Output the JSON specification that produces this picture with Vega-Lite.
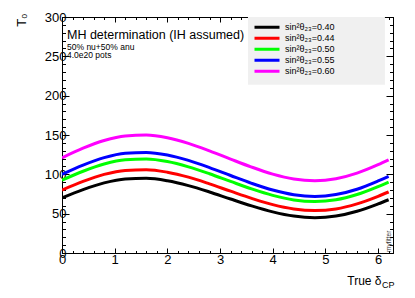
{
  "$schema": "https://vega.github.io/schema/vega-lite/v6.json",
  "width": 331,
  "height": 236,
  "autosize": {"type": "none"},
  "padding": {"left": 62, "top": 17, "right": 22, "bottom": 45},
  "background": "white",
  "config": {
    "view": {"stroke": "black", "strokeWidth": 1},
    "font": "Liberation Sans",
    "axis": {"domainColor": "black", "domainWidth": 1, "tickColor": "black", "tickWidth": 1, "labelColor": "black", "labelFont": "Liberation Sans", "labelFontSize": 13, "titleFont": "Liberation Sans", "titleFontWeight": "normal", "titleColor": "black", "grid": false, "labelOverlap": false, "labelBound": false, "labelFlush": false}
  },
  "datasets": {
    "curves": [
      {"d": 0, "T": 70, "s": "sin²θ₂₃=0.40"}, {"d": 0.4, "T": 80.6, "s": "sin²θ₂₃=0.40"}, {"d": 0.8, "T": 89.1, "s": "sin²θ₂₃=0.40"}, {"d": 1.2, "T": 94.1, "s": "sin²θ₂₃=0.40"}, {"d": 1.6, "T": 94.9, "s": "sin²θ₂₃=0.40"}, {"d": 2.0, "T": 91.8, "s": "sin²θ₂₃=0.40"}, {"d": 2.4, "T": 85.7, "s": "sin²θ₂₃=0.40"}, {"d": 2.8, "T": 77.6, "s": "sin²θ₂₃=0.40"}, {"d": 3.2, "T": 68.6, "s": "sin²θ₂₃=0.40"}, {"d": 3.6, "T": 59.9, "s": "sin²θ₂₃=0.40"}, {"d": 4.0, "T": 52.3, "s": "sin²θ₂₃=0.40"}, {"d": 4.4, "T": 46.9, "s": "sin²θ₂₃=0.40"}, {"d": 4.8, "T": 44.9, "s": "sin²θ₂₃=0.40"}, {"d": 5.2, "T": 46.9, "s": "sin²θ₂₃=0.40"}, {"d": 5.6, "T": 53.0, "s": "sin²θ₂₃=0.40"}, {"d": 6.0, "T": 62.4, "s": "sin²θ₂₃=0.40"}, {"d": 6.2, "T": 67.7, "s": "sin²θ₂₃=0.40"},
      {"d": 0, "T": 80, "s": "sin²θ₂₃=0.44"}, {"d": 0.4, "T": 91.0, "s": "sin²θ₂₃=0.44"}, {"d": 0.8, "T": 99.9, "s": "sin²θ₂₃=0.44"}, {"d": 1.2, "T": 105.0, "s": "sin²θ₂₃=0.44"}, {"d": 1.6, "T": 105.9, "s": "sin²θ₂₃=0.44"}, {"d": 2.0, "T": 102.7, "s": "sin²θ₂₃=0.44"}, {"d": 2.4, "T": 96.4, "s": "sin²θ₂₃=0.44"}, {"d": 2.8, "T": 87.9, "s": "sin²θ₂₃=0.44"}, {"d": 3.2, "T": 78.6, "s": "sin²θ₂₃=0.44"}, {"d": 3.6, "T": 69.5, "s": "sin²θ₂₃=0.44"}, {"d": 4.0, "T": 61.5, "s": "sin²θ₂₃=0.44"}, {"d": 4.4, "T": 56.0, "s": "sin²θ₂₃=0.44"}, {"d": 4.8, "T": 53.9, "s": "sin²θ₂₃=0.44"}, {"d": 5.2, "T": 56.0, "s": "sin²θ₂₃=0.44"}, {"d": 5.6, "T": 62.4, "s": "sin²θ₂₃=0.44"}, {"d": 6.0, "T": 72.1, "s": "sin²θ₂₃=0.44"}, {"d": 6.2, "T": 77.6, "s": "sin²θ₂₃=0.44"},
      {"d": 0, "T": 92.5, "s": "sin²θ₂₃=0.50"}, {"d": 0.4, "T": 103.9, "s": "sin²θ₂₃=0.50"}, {"d": 0.8, "T": 113.1, "s": "sin²θ₂₃=0.50"}, {"d": 1.2, "T": 118.5, "s": "sin²θ₂₃=0.50"}, {"d": 1.6, "T": 119.4, "s": "sin²θ₂₃=0.50"}, {"d": 2.0, "T": 116.2, "s": "sin²θ₂₃=0.50"}, {"d": 2.4, "T": 109.5, "s": "sin²θ₂₃=0.50"}, {"d": 2.8, "T": 100.7, "s": "sin²θ₂₃=0.50"}, {"d": 3.2, "T": 91.0, "s": "sin²θ₂₃=0.50"}, {"d": 3.6, "T": 81.5, "s": "sin²θ₂₃=0.50"}, {"d": 4.0, "T": 73.3, "s": "sin²θ₂₃=0.50"}, {"d": 4.4, "T": 67.5, "s": "sin²θ₂₃=0.50"}, {"d": 4.8, "T": 65.4, "s": "sin²θ₂₃=0.50"}, {"d": 5.2, "T": 67.6, "s": "sin²θ₂₃=0.50"}, {"d": 5.6, "T": 74.3, "s": "sin²θ₂₃=0.50"}, {"d": 6.0, "T": 84.4, "s": "sin²θ₂₃=0.50"}, {"d": 6.2, "T": 90.1, "s": "sin²θ₂₃=0.50"},
      {"d": 0, "T": 100, "s": "sin²θ₂₃=0.55"}, {"d": 0.4, "T": 111.8, "s": "sin²θ₂₃=0.55"}, {"d": 0.8, "T": 121.3, "s": "sin²θ₂₃=0.55"}, {"d": 1.2, "T": 126.9, "s": "sin²θ₂₃=0.55"}, {"d": 1.6, "T": 127.9, "s": "sin²θ₂₃=0.55"}, {"d": 2.0, "T": 124.6, "s": "sin²θ₂₃=0.55"}, {"d": 2.4, "T": 117.7, "s": "sin²θ₂₃=0.55"}, {"d": 2.8, "T": 108.6, "s": "sin²θ₂₃=0.55"}, {"d": 3.2, "T": 98.5, "s": "sin²θ₂₃=0.55"}, {"d": 3.6, "T": 88.6, "s": "sin²θ₂₃=0.55"}, {"d": 4.0, "T": 80.0, "s": "sin²θ₂₃=0.55"}, {"d": 4.4, "T": 74.1, "s": "sin²θ₂₃=0.55"}, {"d": 4.8, "T": 71.9, "s": "sin²θ₂₃=0.55"}, {"d": 5.2, "T": 74.3, "s": "sin²θ₂₃=0.55"}, {"d": 5.6, "T": 81.1, "s": "sin²θ₂₃=0.55"}, {"d": 6.0, "T": 91.6, "s": "sin²θ₂₃=0.55"}, {"d": 6.2, "T": 97.5, "s": "sin²θ₂₃=0.55"},
      {"d": 0, "T": 121, "s": "sin²θ₂₃=0.60"}, {"d": 0.4, "T": 133.2, "s": "sin²θ₂₃=0.60"}, {"d": 0.8, "T": 143.0, "s": "sin²θ₂₃=0.60"}, {"d": 1.2, "T": 148.8, "s": "sin²θ₂₃=0.60"}, {"d": 1.6, "T": 149.9, "s": "sin²θ₂₃=0.60"}, {"d": 2.0, "T": 146.5, "s": "sin²θ₂₃=0.60"}, {"d": 2.4, "T": 139.4, "s": "sin²θ₂₃=0.60"}, {"d": 2.8, "T": 129.9, "s": "sin²θ₂₃=0.60"}, {"d": 3.2, "T": 119.4, "s": "sin²θ₂₃=0.60"}, {"d": 3.6, "T": 109.2, "s": "sin²θ₂₃=0.60"}, {"d": 4.0, "T": 100.3, "s": "sin²θ₂₃=0.60"}, {"d": 4.4, "T": 94.1, "s": "sin²θ₂₃=0.60"}, {"d": 4.8, "T": 91.9, "s": "sin²θ₂₃=0.60"}, {"d": 5.2, "T": 94.4, "s": "sin²θ₂₃=0.60"}, {"d": 5.6, "T": 101.5, "s": "sin²θ₂₃=0.60"}, {"d": 6.0, "T": 112.3, "s": "sin²θ₂₃=0.60"}, {"d": 6.2, "T": 118.4, "s": "sin²θ₂₃=0.60"}
    ]
  },
  "layer": [
    {
      "data": {"values": [{"box": "legend"}]},
      "mark": {"type": "rect", "fill": "#f0f0f0", "stroke": null},
      "encoding": {
        "x": {"datum": 3.53, "type": "quantitative", "scale": {"domain": [0, 6.2832], "nice": false, "zero": false}, "axis": null},
        "x2": {"datum": 6.13},
        "y": {"datum": 300, "type": "quantitative", "scale": {"domain": [0, 300], "nice": false}, "axis": null},
        "y2": {"datum": 214}
      }
    },
    {
      "data": {"name": "curves"},
      "mark": {"type": "line", "strokeWidth": 3, "interpolate": "monotone", "clip": true},
      "encoding": {
        "x": {
          "field": "d", "type": "quantitative",
          "scale": {"domain": [0, 6.2832], "nice": false, "zero": false},
          "axis": {
            "orient": "bottom",
            "values": [0, 0.2, 0.4, 0.6, 0.8, 1, 1.2, 1.4, 1.6, 1.8, 2, 2.2, 2.4, 2.6, 2.8, 3, 3.2, 3.4, 3.6, 3.8, 4, 4.2, 4.4, 4.6, 4.8, 5, 5.2, 5.4, 5.6, 5.8, 6, 6.2],
            "tickSize": {"condition": {"test": "abs(datum.value - round(datum.value)) < 0.01", "value": -5}, "value": -2.5},
            "labelExpr": "abs(datum.value - round(datum.value)) < 0.01 ? format(datum.value, 'd') : ''",
            "labelPadding": 5,
            "labelBaseline": "top",
            "title": "True δ",
            "titleFontSize": 12,
            "titleX": 319,
            "titleY": 31,
            "titleAlign": "right",
            "titleBaseline": "alphabetic"
          }
        },
        "y": {
          "field": "T", "type": "quantitative",
          "scale": {"domain": [0, 300], "nice": false},
          "axis": {
            "orient": "left",
            "values": [0, 10, 20, 30, 40, 50, 60, 70, 80, 90, 100, 110, 120, 130, 140, 150, 160, 170, 180, 190, 200, 210, 220, 230, 240, 250, 260, 270, 280, 290, 300],
            "tickSize": {"condition": {"test": "datum.value % 50 === 0", "value": -7}, "value": -3.5},
            "labelExpr": "datum.value % 50 === 0 ? datum.label : ''",
            "labelPadding": 3,
            "title": "T₀",
            "titleFontSize": 13,
            "titleAngle": 270,
            "titleX": -37,
            "titleY": -4,
            "titleAlign": "right",
            "titleBaseline": "alphabetic"
          }
        },
        "color": {
          "field": "s", "type": "nominal",
          "scale": {"domain": ["sin²θ₂₃=0.40", "sin²θ₂₃=0.44", "sin²θ₂₃=0.50", "sin²θ₂₃=0.55", "sin²θ₂₃=0.60"], "range": ["#000000", "#ff0000", "#00ff00", "#0000ff", "#ff00ff"]},
          "legend": {
            "orient": "none",
            "legendX": 191,
            "legendY": 5,
            "title": null,
            "padding": 0,
            "symbolType": "stroke",
            "symbolSize": 625,
            "symbolStrokeWidth": 3,
            "clipHeight": 10.25,
            "rowPadding": 0,
            "labelOffset": 4,
            "labelFont": "Liberation Sans",
            "labelFontSize": 9,
            "labelColor": "black"
          }
        }
      }
    },
    {
      "data": {"name": "curves"},
      "mark": {"type": "point", "opacity": 0},
      "encoding": {
        "x": {
          "field": "d", "type": "quantitative",
          "scale": {"domain": [0, 6.2832], "nice": false, "zero": false},
          "axis": {
            "orient": "top",
            "values": [0, 0.2, 0.4, 0.6, 0.8, 1, 1.2, 1.4, 1.6, 1.8, 2, 2.2, 2.4, 2.6, 2.8, 3, 3.2, 3.4, 3.6, 3.8, 4, 4.2, 4.4, 4.6, 4.8, 5, 5.2, 5.4, 5.6, 5.8, 6, 6.2],
            "tickSize": {"condition": {"test": "abs(datum.value - round(datum.value)) < 0.01", "value": -5}, "value": -2.5},
            "labels": false,
            "title": null
          }
        },
        "y": {
          "field": "T", "type": "quantitative",
          "scale": {"domain": [0, 300], "nice": false},
          "axis": {
            "orient": "right",
            "values": [0, 10, 20, 30, 40, 50, 60, 70, 80, 90, 100, 110, 120, 130, 140, 150, 160, 170, 180, 190, 200, 210, 220, 230, 240, 250, 260, 270, 280, 290, 300],
            "tickSize": {"condition": {"test": "datum.value % 50 === 0", "value": -7}, "value": -3.5},
            "labels": false,
            "title": null
          }
        }
      }
    },
    {
      "data": {"values": [{"label": "MH determination (IH assumed)"}]},
      "mark": {"type": "text", "align": "left", "baseline": "alphabetic", "fontSize": 12.5, "font": "Liberation Sans", "color": "black"},
      "encoding": {
        "x": {"datum": 0.095, "type": "quantitative", "axis": null},
        "y": {"datum": 272, "type": "quantitative", "axis": null},
        "text": {"field": "label"}
      }
    },
    {
      "data": {"values": [{"label": "50% nu+50% anu"}]},
      "mark": {"type": "text", "align": "left", "baseline": "alphabetic", "fontSize": 8.5, "font": "Liberation Sans", "color": "black"},
      "encoding": {
        "x": {"datum": 0.095, "type": "quantitative", "axis": null},
        "y": {"datum": 258, "type": "quantitative", "axis": null},
        "text": {"field": "label"}
      }
    },
    {
      "data": {"values": [{"label": "4.0e20 pots"}]},
      "mark": {"type": "text", "align": "left", "baseline": "alphabetic", "fontSize": 8.5, "font": "Liberation Sans", "color": "black"},
      "encoding": {
        "x": {"datum": 0.095, "type": "quantitative", "axis": null},
        "y": {"datum": 248, "type": "quantitative", "axis": null},
        "text": {"field": "label"}
      }
    },
    {
      "data": {"values": [{"label": "myfitter"}]},
      "mark": {"type": "text", "align": "left", "baseline": "alphabetic", "angle": 270, "fontSize": 6.5, "font": "Liberation Sans", "color": "#333333"},
      "encoding": {
        "x": {"datum": 6.237, "type": "quantitative", "axis": null},
        "y": {"datum": 1.3, "type": "quantitative", "axis": null},
        "text": {"field": "label"}
      }
    },
    {
      "data": {"values": [{"label": "CP"}]},
      "mark": {"type": "text", "align": "left", "baseline": "alphabetic", "fontSize": 9, "font": "Liberation Sans", "color": "black"},
      "encoding": {
        "x": {"datum": 6.075, "type": "quantitative", "axis": null},
        "y": {"datum": -44, "type": "quantitative", "axis": null},
        "text": {"field": "label"}
      }
    }
  ],
  "resolve": {"axis": {"x": "independent", "y": "independent"}}
}
